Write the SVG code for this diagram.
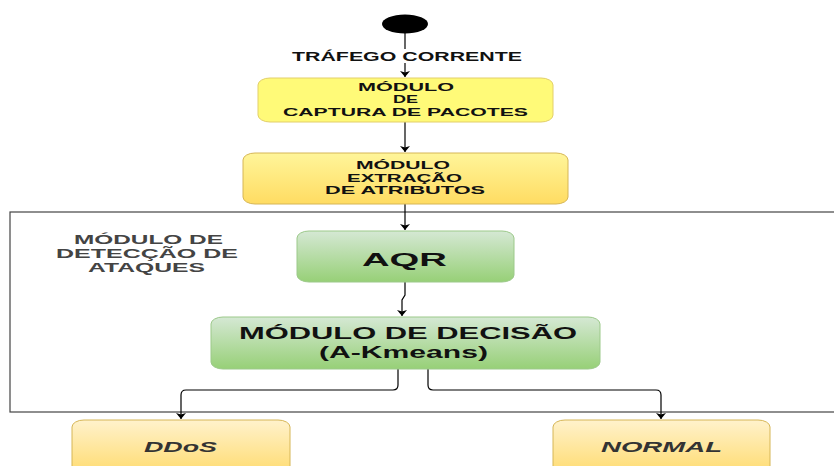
<svg xmlns="http://www.w3.org/2000/svg" width="834" height="466" viewBox="0 0 834 466">
  <defs>
    <linearGradient id="gYel" x1="0" y1="0" x2="0" y2="1">
      <stop offset="0" stop-color="#fff59a"/>
      <stop offset="1" stop-color="#ffdc62"/>
    </linearGradient>
    <linearGradient id="gGrn" x1="0" y1="0" x2="0" y2="1">
      <stop offset="0" stop-color="#d5e8d4"/>
      <stop offset="1" stop-color="#97d077"/>
    </linearGradient>
    <linearGradient id="gOut" x1="0" y1="0" x2="0" y2="1">
      <stop offset="0" stop-color="#fff2cc"/>
      <stop offset="1" stop-color="#ffd966"/>
    </linearGradient>
    <marker id="arr" markerUnits="userSpaceOnUse" markerWidth="12" markerHeight="12" viewBox="-1 -6 9 12" refX="6" refY="0" orient="auto">
      <path d="M0,-5 L6,0 L0,5 L1.5,0 z" fill="#000"/>
    </marker>
    <style>
      .t { font-family: "Liberation Sans", Arial, sans-serif; font-weight: bold; text-anchor: start; }
      .s { font-size: 11px; fill: #111; }
      .c { fill: none; stroke: #000; stroke-width: 1.2; marker-end: url(#arr); }
      .lbl { font-size: 12px; fill: #444; }
      .out { font-size: 15px; font-style: italic; fill: #333; }
    </style>
  </defs>

  <g id="container">
    <rect x="10" y="212" width="830" height="200" fill="none" stroke="#444" stroke-width="1.2"/>
    <text class="t lbl" x="74" y="244" textLength="149" lengthAdjust="spacingAndGlyphs">MÓDULO DE</text>
    <text class="t lbl" x="56" y="258" textLength="182" lengthAdjust="spacingAndGlyphs">DETECÇÃO DE</text>
    <text class="t lbl" x="88" y="272" textLength="117" lengthAdjust="spacingAndGlyphs">ATAQUES</text>
  </g>

  <g id="connectors">
    <path class="c" d="M405,33 V77"/>
    <rect x="288" y="49" width="238" height="14" fill="#fff"/>
    <text class="t" x="292" y="61" font-size="12" fill="#111" textLength="230" lengthAdjust="spacingAndGlyphs">TRÁFEGO CORRENTE</text>
    <path class="c" d="M405,122 V152"/>
    <path class="c" d="M405,204 V230"/>
    <path class="c" d="M405,282 V295 L402,300 V316"/>
    <path class="c" d="M398,369 V385 Q398,390 393,390 H186 Q181,390 181,395 V419"/>
    <path class="c" d="M428,369 V385 Q428,390 433,390 H656 Q661,390 661,395 V419"/>
  </g>

  <g id="start">
    <ellipse cx="405" cy="24" rx="23" ry="9.5" fill="#000"/>
  </g>

  <g id="captura">
    <rect x="258" y="78" width="295" height="44" rx="12" ry="7" fill="#fffa78" stroke="#e2cf6a" stroke-width="1"/>
    <text class="t s" x="358" y="91" textLength="96" lengthAdjust="spacingAndGlyphs">MÓDULO</text>
    <text class="t s" x="393" y="103" textLength="25" lengthAdjust="spacingAndGlyphs">DE</text>
    <text class="t s" x="283" y="116" textLength="245" lengthAdjust="spacingAndGlyphs">CAPTURA DE PACOTES</text>
  </g>

  <g id="extracao">
    <rect x="243" y="153" width="325" height="51" rx="12" ry="7" fill="url(#gYel)" stroke="#d6b656" stroke-width="1"/>
    <text class="t s" x="356" y="169" textLength="94" lengthAdjust="spacingAndGlyphs">MÓDULO</text>
    <text class="t s" x="347" y="182" textLength="115" lengthAdjust="spacingAndGlyphs">EXTRAÇÃO</text>
    <text class="t s" x="325" y="194" textLength="160" lengthAdjust="spacingAndGlyphs">DE ATRIBUTOS</text>
  </g>

  <g id="aqr">
    <rect x="297" y="231" width="217" height="51" rx="12" ry="7" fill="url(#gGrn)" stroke="#9cc98a" stroke-width="1"/>
    <text class="t" x="362" y="266" font-size="19" fill="#111" textLength="85" lengthAdjust="spacingAndGlyphs">AQR</text>
  </g>

  <g id="decisao">
    <rect x="211" y="317" width="389" height="52" rx="12" ry="7" fill="url(#gGrn)" stroke="#9cc98a" stroke-width="1"/>
    <text class="t" x="239" y="339" font-size="16" fill="#111" textLength="338" lengthAdjust="spacingAndGlyphs">MÓDULO DE DECISÃO</text>
    <text class="t" x="319" y="358" font-size="16" fill="#111" textLength="169" lengthAdjust="spacingAndGlyphs">(A-Kmeans)</text>
  </g>

  <g id="ddos">
    <rect x="72" y="420" width="218" height="60" rx="12" ry="7" fill="url(#gOut)" stroke="#d6b656" stroke-width="1"/>
    <text class="t out" x="144" y="452" textLength="73" lengthAdjust="spacingAndGlyphs">DDoS</text>
  </g>

  <g id="normal">
    <rect x="553" y="420" width="217" height="60" rx="12" ry="7" fill="url(#gOut)" stroke="#d6b656" stroke-width="1"/>
    <text class="t out" x="601" y="452" textLength="121" lengthAdjust="spacingAndGlyphs">NORMAL</text>
  </g>
</svg>
